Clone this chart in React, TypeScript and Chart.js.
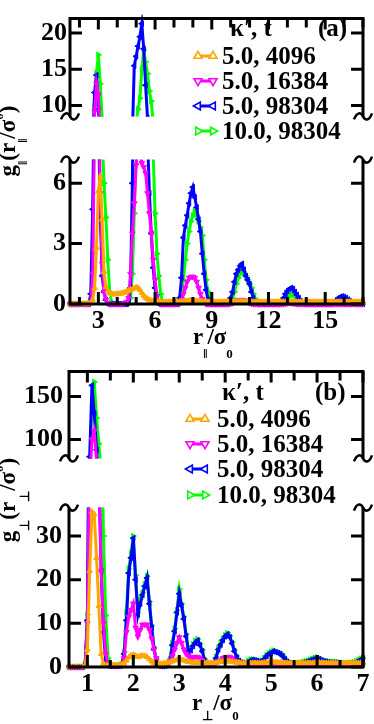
import React, { useEffect, useRef } from 'react';
import { Chart, registerables } from 'chart.js';
Chart.register(...registerables);

// ---------- Panel (a): g_parallel(r_parallel / sigma_0) ----------
const rPar = [
  1.5, 1.6, 1.7, 1.8, 1.9, 2.0, 2.1, 2.2, 2.3, 2.4,
  2.5, 2.6, 2.7, 2.8, 2.9, 3.0, 3.1, 3.2, 3.3, 3.4,
  3.5, 3.6, 3.7, 3.8, 3.9, 4.0, 4.1, 4.2, 4.3, 4.4,
  4.5, 4.6, 4.7, 4.8, 4.9, 5.0, 5.1, 5.2, 5.3, 5.4,
  5.5, 5.6, 5.7, 5.8, 5.9, 6.0, 6.1, 6.2, 6.3, 6.4,
  6.5, 6.6, 6.7, 6.8, 6.9, 7.0, 7.1, 7.2, 7.3, 7.4,
  7.5, 7.6, 7.7, 7.8, 7.9, 8.0, 8.1, 8.2, 8.3, 8.4,
  8.5, 8.6, 8.7, 8.8, 8.9, 9.0, 9.1, 9.2, 9.3, 9.4,
  9.5, 9.6, 9.7, 9.8, 9.9, 10.0, 10.1, 10.2, 10.3, 10.4,
  10.5, 10.6, 10.7, 10.8, 10.9, 11.0, 11.1, 11.2, 11.3, 11.4,
  11.5, 11.6, 11.7, 11.8, 11.9, 12.0, 12.1, 12.2, 12.3, 12.4,
  12.5, 12.6, 12.7, 12.8, 12.9, 13.0, 13.1, 13.2, 13.3, 13.4,
  13.5, 13.6, 13.7, 13.8, 13.9, 14.0, 14.1, 14.2, 14.3, 14.4,
  14.5, 14.6, 14.7, 14.8, 14.9, 15.0, 15.1, 15.2, 15.3, 15.4,
  15.5, 15.6, 15.7, 15.8, 15.9, 16.0, 16.1, 16.2, 16.3, 16.4,
  16.5, 16.6, 16.7, 16.8, 16.9, 17.0,
];
const gPar_5_4096 = [
  0, 0, 0, 0, 0, 0, 0, 0, 0, 0,
  0.02, 0.05, 0.2, 0.8, 2.8, 5.6, 6.35, 4.2, 1.6, 0.85,
  0.65, 0.55, 0.5, 0.48, 0.48, 0.5, 0.5, 0.52, 0.55, 0.58,
  0.62, 0.66, 0.7, 0.74, 0.78, 0.82, 0.8, 0.7, 0.55, 0.42,
  0.32, 0.25, 0.2, 0.16, 0.14, 0.12, 0.11, 0.1, 0.1, 0.1,
  0.1, 0.1, 0.1, 0.1, 0.1, 0.1, 0.1, 0.1, 0.11, 0.12,
  0.13, 0.14, 0.15, 0.16, 0.17, 0.17, 0.16, 0.15, 0.14, 0.13,
  0.12, 0.11, 0.1, 0.1, 0.1, 0.1, 0.1, 0.1, 0.1, 0.1,
  0.1, 0.1, 0.1, 0.1, 0.1, 0.1, 0.1, 0.11, 0.11, 0.12,
  0.12, 0.12, 0.12, 0.11, 0.11, 0.1, 0.1, 0.1, 0.1, 0.1,
  0.1, 0.1, 0.1, 0.1, 0.1, 0.1, 0.1, 0.1, 0.1, 0.1,
  0.1, 0.1, 0.1, 0.1, 0.1, 0.1, 0.11, 0.11, 0.11, 0.1,
  0.1, 0.1, 0.1, 0.1, 0.1, 0.1, 0.1, 0.1, 0.1, 0.1,
  0.1, 0.1, 0.1, 0.1, 0.1, 0.1, 0.1, 0.1, 0.1, 0.1,
  0.1, 0.1, 0.1, 0.1, 0.1, 0.1, 0.1, 0.1, 0.1, 0.1,
  0.1, 0.1, 0.1, 0.1, 0.1, 0.1,
];
const gPar_5_16384 = [
  0, 0, 0, 0, 0, 0, 0, 0, 0, 0,
  0, 0.1, 1.5, 9.2, 13, 11.5, 5.5, 2.0, 0.6, 0.2,
  0.05, 0, 0, 0, 0, 0, 0, 0, 0, 0.05,
  0.1, 0.3, 1.5, 3.5, 5.0, 6.9, 7.8, 7.6, 7.0, 6.8,
  6.5, 5.5, 4.5, 3.5, 2.2, 1.2, 0.4, 0.1, 0, 0,
  0, 0, 0, 0, 0, 0, 0, 0, 0.05, 0.2,
  0.5, 0.8, 1.1, 1.3, 1.35, 1.35, 1.3, 1.1, 0.8, 0.5,
  0.25, 0.1, 0, 0, 0, 0, 0, 0, 0, 0,
  0, 0, 0, 0, 0, 0.02, 0.05, 0.1, 0.15, 0.18,
  0.2, 0.2, 0.18, 0.15, 0.1, 0.05, 0.02, 0, 0, 0,
  0, 0, 0, 0, 0, 0, 0, 0, 0, 0,
  0, 0, 0, 0, 0.02, 0.04, 0.05, 0.05, 0.04, 0.02,
  0, 0, 0, 0, 0, 0, 0, 0, 0, 0,
  0, 0, 0, 0, 0, 0, 0, 0, 0, 0,
  0, 0, 0, 0, 0, 0, 0, 0, 0, 0,
  0, 0, 0, 0, 0, 0,
];
const gPar_5_98304 = [
  0, 0, 0, 0, 0, 0, 0, 0, 0, 0,
  0, 0.5, 4.7, 11.8, 14.2, 9.5, 4.5, 1.4, 0.6, 0.2,
  0, 0, 0, 0, 0, 0, 0, 0, 0, 0,
  0, 0.1, 0.8, 6.0, 15.5, 16.8, 18.2, 19.5, 21.3, 17.8,
  12.8, 8.3, 5.5, 3.5, 1.8, 0.8, 0.2, 0, 0, 0,
  0, 0, 0, 0, 0, 0, 0, 0, 0.3, 1.3,
  3.3, 3.9, 4.4, 5.0, 5.5, 5.8, 5.3, 4.8, 4.2, 3.6,
  2.5, 1.5, 0.7, 0.2, 0, 0, 0, 0, 0, 0,
  0, 0, 0, 0, 0.05, 0.3, 0.6, 1.1, 1.5, 1.7,
  1.9, 2.0, 1.7, 1.4, 1.2, 1.0, 0.6, 0.3, 0.1, 0,
  0, 0, 0, 0, 0, 0, 0, 0, 0, 0,
  0, 0.05, 0.15, 0.3, 0.5, 0.65, 0.75, 0.8, 0.75, 0.6,
  0.45, 0.3, 0.15, 0.05, 0, 0, 0, 0, 0, 0,
  0, 0, 0, 0, 0, 0, 0, 0, 0, 0.05,
  0.12, 0.2, 0.3, 0.36, 0.38, 0.35, 0.3, 0.22, 0.15, 0.08,
  0.03, 0, 0, 0, 0, 0,
];
const gPar_10_98304 = [
  0, 0, 0, 0, 0, 0, 0, 0, 0, 0,
  0, 0.2, 2.5, 10, 14.5, 17, 13, 8.3, 6.0, 4.3,
  2.2, 0.6, 0.1, 0, 0, 0, 0, 0, 0, 0,
  0, 0, 0.3, 1.5, 4.5, 7.5, 9.5, 11, 15, 17.7,
  16, 14.4, 12, 10.6, 7.5, 4.5, 2.5, 1.4, 0.5, 0.1,
  0, 0, 0, 0, 0, 0, 0, 0, 0, 0.3,
  1.2, 2.2, 3.0, 3.6, 4.1, 4.4, 4.6, 4.4, 4.1, 3.8,
  3.4, 2.2, 1.2, 0.6, 0.2, 0, 0, 0, 0, 0,
  0, 0, 0, 0, 0, 0.1, 0.3, 0.6, 1.0, 1.3,
  1.5, 1.6, 1.6, 1.4, 1.2, 1.0, 0.8, 0.5, 0.25, 0.1,
  0, 0, 0, 0, 0, 0, 0, 0, 0, 0,
  0, 0, 0, 0.1, 0.2, 0.3, 0.4, 0.45, 0.45, 0.4,
  0.3, 0.2, 0.1, 0, 0, 0, 0, 0, 0, 0,
  0, 0, 0, 0, 0, 0, 0, 0, 0, 0,
  0.05, 0.1, 0.15, 0.2, 0.2, 0.18, 0.15, 0.1, 0.05, 0,
  0, 0, 0, 0, 0, 0,
];
const parXTickLabels = [3, 6, 9, 12, 15];
const parXMinorTicks = [2, 3, 4, 5, 6, 7, 8, 9, 10, 11, 12, 13, 14, 15, 16, 17];
const parUpperYTicks = [10, 15, 20];
const parLowerYTicks = [0, 3, 6];

// ---------- Panel (b): g_perp(r_perp / sigma_0) ----------
const rPerp = [
  0.6, 0.65, 0.7, 0.75, 0.8, 0.85, 0.9, 0.95, 1.0, 1.05,
  1.1, 1.15, 1.2, 1.25, 1.3, 1.35, 1.4, 1.45, 1.5, 1.55,
  1.6, 1.65, 1.7, 1.75, 1.8, 1.85, 1.9, 1.95, 2.0, 2.05,
  2.1, 2.15, 2.2, 2.25, 2.3, 2.35, 2.4, 2.45, 2.5, 2.55,
  2.6, 2.65, 2.7, 2.75, 2.8, 2.85, 2.9, 2.95, 3.0, 3.05,
  3.1, 3.15, 3.2, 3.25, 3.3, 3.35, 3.4, 3.45, 3.5, 3.55,
  3.6, 3.65, 3.7, 3.75, 3.8, 3.85, 3.9, 3.95, 4.0, 4.05,
  4.1, 4.15, 4.2, 4.25, 4.3, 4.35, 4.4, 4.45, 4.5, 4.55,
  4.6, 4.65, 4.7, 4.75, 4.8, 4.85, 4.9, 4.95, 5.0, 5.05,
  5.1, 5.15, 5.2, 5.25, 5.3, 5.35, 5.4, 5.45, 5.5, 5.55,
  5.6, 5.65, 5.7, 5.75, 5.8, 5.85, 5.9, 5.95, 6.0, 6.05,
  6.1, 6.15, 6.2, 6.25, 6.3, 6.35, 6.4, 6.45, 6.5, 6.55,
  6.6, 6.65, 6.7, 6.75, 6.8, 6.85, 6.9, 6.95, 7.0,
];
const gPerp_5_4096 = [
  0, 0, 0, 0, 0, 0, 0, 0.2, 4, 22,
  35.5, 35, 25, 14, 3, 0.8, 0.3, 0.3, 0.3, 0.4,
  0.4, 0.4, 0.5, 0.6, 0.8, 1.5, 2.2, 2.6, 2.8, 2.6,
  2.3, 2.5, 2.6, 2.5, 2.3, 1.8, 1.3, 0.9, 0.7, 0.7,
  0.7, 0.8, 0.9, 1.0, 1.1, 1.3, 1.5, 1.6, 1.7, 1.6,
  1.5, 1.3, 1.2, 1.1, 1.0, 1.0, 1.0, 1.0, 1.0, 0.9,
  0.9, 0.9, 0.9, 0.9, 1.0, 1.1, 1.2, 1.3, 1.3, 1.3,
  1.3, 1.2, 1.1, 1.0, 1.0, 0.9, 0.9, 0.9, 0.9, 0.9,
  0.9, 0.9, 0.9, 0.9, 0.9, 1.0, 1.0, 1.0, 1.1, 1.1,
  1.1, 1.0, 1.0, 1.0, 0.9, 0.9, 0.9, 0.9, 0.9, 0.9,
  0.9, 0.9, 0.9, 0.9, 0.9, 0.9, 0.9, 1.0, 1.0, 1.0,
  1.0, 0.9, 0.9, 0.9, 0.9, 0.9, 0.9, 0.9, 0.9, 0.9,
  0.9, 0.9, 0.9, 0.9, 0.9, 0.9, 0.9, 0.9, 0.9,
];
const gPerp_5_16384 = [
  0, 0, 0, 0, 0, 0, 0, 0.3, 10, 50,
  100, 110, 75, 45, 22, 10, 3, 0.5, 0.3, 0.3,
  0.3, 0.3, 0.3, 0.3, 2, 8, 11.5, 13, 14.5, 9,
  7, 8.5, 9.7, 9.7, 9.7, 8.5, 6.5, 4, 2, 0.8,
  0.3, 0.3, 0.5, 0.8, 1.5, 2.5, 4, 5.5, 6.8, 5.5,
  4, 3, 2.5, 2.2, 2.2, 2.3, 2.3, 2, 1.5, 1,
  0.8, 0.6, 0.5, 0.6, 0.9, 1.2, 1.5, 2, 2.2, 2.3,
  2.3, 2, 1.5, 1.2, 0.9, 0.7, 0.6, 0.5, 0.5, 0.5,
  0.5, 0.5, 0.5, 0.5, 0.6, 0.6, 0.7, 0.8, 0.9, 0.9,
  0.9, 0.8, 0.8, 0.7, 0.6, 0.6, 0.5, 0.5, 0.5, 0.5,
  0.5, 0.5, 0.5, 0.6, 0.6, 0.6, 0.6, 0.7, 0.7, 0.7,
  0.6, 0.6, 0.6, 0.5, 0.5, 0.5, 0.5, 0.5, 0.5, 0.5,
  0.5, 0.5, 0.5, 0.5, 0.5, 0.5, 0.5, 0.5, 0.5,
];
const gPerp_5_98304 = [
  0, 0, 0, 0, 0, 0, 0, 0.5, 10.7, 80,
  163, 130, 88, 45, 22, 8, 1.5, 0.3, 0.2, 0.2,
  0.2, 0.2, 0.3, 0.5, 3, 10.7, 21.5, 25, 29.5, 20,
  12, 14.5, 16.5, 18.5, 20.4, 14.5, 9, 4, 1.5, 0.3,
  0.2, 0.2, 0.3, 0.5, 1.5, 5, 8.2, 12.5, 16.8, 14,
  11, 7, 3.6, 3.8, 4.8, 5.5, 6.1, 5, 3.6, 1.5,
  0.8, 0.5, 0.4, 0.6, 2, 4, 5.1, 6.2, 7.0, 7.5,
  6.8, 5.4, 3.6, 2.2, 1.4, 1.0, 0.8, 0.8, 1.2, 1.5,
  1.6, 1.5, 1.4, 1.2, 1.3, 1.8, 2.5, 3.0, 3.3, 3.6,
  3.4, 3.2, 3.0, 2.5, 1.8, 1.2, 0.9, 0.7, 0.6, 0.6,
  0.7, 0.8, 1.0, 1.1, 1.3, 1.5, 1.7, 1.9, 2.0, 1.8,
  1.5, 1.3, 1.2, 1.1, 1.0, 1.0, 1.0, 0.9, 0.8, 0.7,
  0.6, 0.6, 0.7, 0.8, 0.9, 1.1, 1.4, 1.7, 1.9,
];
const gPerp_10_98304 = [
  0, 0, 0, 0, 0, 0, 0, 0.6, 12, 60,
  140, 167, 125, 95, 60, 30, 11.8, 2, 0.5, 0.3,
  0.3, 0.3, 0.3, 0.6, 3.5, 12.5, 22.5, 26, 30, 21,
  12.5, 15.5, 17, 19, 20.8, 15, 9.5, 4.5, 1.8, 0.4,
  0.3, 0.3, 0.4, 0.6, 1.8, 5.5, 8.8, 13, 17.8, 14.5,
  11.5, 7.5, 4, 4.2, 5.2, 6, 6.4, 5.3, 3.9, 1.8,
  1, 0.6, 0.5, 0.8, 2.3, 4.3, 5.5, 6.5, 7.3, 7.8,
  7.1, 5.7, 3.9, 2.5, 1.6, 1.2, 1.0, 1.0, 1.4, 1.7,
  1.8, 1.7, 1.6, 1.4, 1.5, 2.0, 2.7, 3.2, 3.5, 3.8,
  3.6, 3.4, 3.2, 2.7, 2.0, 1.4, 1.1, 0.9, 0.8, 0.8,
  0.9, 1.0, 1.2, 1.3, 1.5, 1.7, 1.9, 2.1, 2.2, 2.0,
  1.7, 1.5, 1.4, 1.3, 1.2, 1.2, 1.2, 1.1, 1.0, 0.9,
  0.8, 0.8, 0.9, 1.0, 1.1, 1.3, 1.6, 1.9, 2.1,
];
const perpXTickLabels = [1, 2, 3, 4, 5, 6, 7];
const perpXMinorTicks = [1, 1.5, 2, 2.5, 3, 3.5, 4, 4.5, 5, 5.5, 6, 6.5, 7];
const perpUpperYTicks = [100, 150];
const perpLowerYTicks = [0, 10, 20, 30];

// ---------- Legend ----------
const seriesLabels = ['5.0, 4096', '5.0, 16384', '5.0, 98304', '10.0, 98304'];
const seriesColors = ['#ffa500', '#ff00ff', '#0000ff', '#00ff00'];
const seriesRotation = [0, 180, 270, 90];

const FONT = '"Liberation Serif", "Times New Roman", serif';

function tilde(ctx: CanvasRenderingContext2D, cx: number, cy: number) {
  ctx.beginPath();
  ctx.moveTo(cx - 9, cy + 3);
  ctx.bezierCurveTo(cx - 6, cy - 5, cx - 2, cy - 4, cx, cy);
  ctx.bezierCurveTo(cx + 2, cy + 4, cx + 6, cy + 5, cx + 9, cy - 3);
  ctx.stroke();
}

function framePlugin(part: 'upper' | 'lower', xMajor: number[], xMinor: number[], yTicks: number[]) {
  return {
    id: 'frame_' + part,
    afterDraw(chart: any) {
      const { ctx, chartArea: a, scales } = chart;
      const xs = scales.x;
      const ys = scales.y;
      ctx.save();
      ctx.strokeStyle = '#000';
      ctx.lineWidth = 3;
      ctx.lineJoin = 'miter';
      ctx.beginPath();
      if (part === 'upper') {
        ctx.moveTo(a.left, a.bottom);
        ctx.lineTo(a.left, a.top);
        ctx.lineTo(a.right, a.top);
        ctx.lineTo(a.right, a.bottom);
      } else {
        ctx.moveTo(a.left, a.top);
        ctx.lineTo(a.left, a.bottom);
        ctx.lineTo(a.right, a.bottom);
        ctx.lineTo(a.right, a.top);
      }
      ctx.stroke();
      ctx.beginPath();
      const edge = part === 'upper' ? a.top : a.bottom;
      const dir = part === 'upper' ? 1 : -1;
      xMinor.forEach((v) => {
        const px = xs.getPixelForValue(v);
        const major = xMajor.includes(v);
        const len = part === 'upper' ? (major ? 11 : 9) : (major ? 12 : 7);
        ctx.moveTo(px, edge);
        ctx.lineTo(px, edge + dir * len);
      });
      yTicks.forEach((v) => {
        const py = ys.getPixelForValue(v);
        ctx.moveTo(a.left, py);
        ctx.lineTo(a.left + 12, py);
        ctx.moveTo(a.right, py);
        ctx.lineTo(a.right - 12, py);
      });
      ctx.stroke();
      ctx.lineWidth = 2.5;
      const by = part === 'upper' ? a.bottom : a.top;
      tilde(ctx, a.left, by);
      tilde(ctx, a.right, by);
      ctx.restore();
    },
  };
}

type Cfg = {
  xs: number[];
  series: number[][];
  xMin: number;
  xMax: number;
  yMin: number;
  yMax: number;
  yTicks: number[];
  xLabels: number[];
  xMinor: number[];
  part: 'upper' | 'lower';
  yWidth: number;
  yPad: number;
  xHeight: number;
  padding: { top: number; right: number; bottom: number; left: number };
};

function buildConfig(c: Cfg): any {
  const tickFont = { family: FONT, size: 26, weight: 'bold' as const };
  const clip =
    c.part === 'upper'
      ? { left: 3, right: 3, top: 4, bottom: 0 }
      : { left: 3, right: 3, top: 0, bottom: 5 };
  return {
    type: 'line',
    data: {
      datasets: c.series.map((ys, i) => ({
        label: seriesLabels[i],
        data: c.xs.map((x, j) => ({ x, y: ys[j] })),
        borderColor: seriesColors[i],
        backgroundColor: seriesColors[i],
        borderWidth: 3,
        pointStyle: 'triangle',
        pointRotation: seriesRotation[i],
        pointRadius: 3.2,
        pointBorderWidth: 1,
        pointBackgroundColor: seriesColors[i],
        pointBorderColor: seriesColors[i],
        tension: 0,
        fill: false,
        clip,
      })),
    },
    options: {
      responsive: false,
      animation: false,
      events: [],
      layout: { padding: c.padding },
      plugins: { legend: { display: false }, tooltip: { enabled: false } },
      scales: {
        x: {
          type: 'linear',
          min: c.xMin,
          max: c.xMax,
          display: c.part === 'lower',
          grid: { display: false, drawTicks: false },
          border: { display: false },
          ticks: { font: tickFont, color: '#000', padding: 2, autoSkip: false, maxRotation: 0 },
          afterBuildTicks: (s: any) => {
            s.ticks = c.xLabels.map((v) => ({ value: v }));
          },
          afterFit: (s: any) => {
            s.height = c.xHeight;
          },
        },
        y: {
          type: 'linear',
          min: c.yMin,
          max: c.yMax,
          grid: { display: false, drawTicks: false },
          border: { display: false },
          ticks: { font: tickFont, color: '#000', padding: c.yPad, autoSkip: false },
          afterBuildTicks: (s: any) => {
            s.ticks = c.yTicks.map((v) => ({ value: v }));
          },
          afterFit: (s: any) => {
            s.width = c.yWidth;
          },
        },
      },
    },
    plugins: [framePlugin(c.part, c.xLabels, c.xMinor, c.yTicks)],
  };
}

const parSeries = [gPar_5_4096, gPar_5_16384, gPar_5_98304, gPar_10_98304];
const perpSeries = [gPerp_5_4096, gPerp_5_16384, gPerp_5_98304, gPerp_10_98304];

const canvases = [
  { top: 0, height: 135 },
  { top: 140, height: 200 },
  { top: 350, height: 130 },
  { top: 485, height: 215 },
];

function makeConfigs(): any[] {
  return [
    buildConfig({
      xs: rPar, series: parSeries, xMin: 1.5, xMax: 17, yMin: 8.5, yMax: 22,
      yTicks: parUpperYTicks, xLabels: parXTickLabels, xMinor: parXMinorTicks,
      part: 'upper', yWidth: 70, yPad: 3, xHeight: 0,
      padding: { top: 3, right: 11, bottom: 12, left: 0 },
    }),
    buildConfig({
      xs: rPar, series: parSeries, xMin: 1.5, xMax: 17, yMin: 0, yMax: 7.17,
      yTicks: parLowerYTicks, xLabels: parXTickLabels, xMinor: parXMinorTicks,
      part: 'lower', yWidth: 70, yPad: 4, xHeight: 36,
      padding: { top: 15, right: 11, bottom: 0, left: 0 },
    }),
    buildConfig({
      xs: rPerp, series: perpSeries, xMin: 0.6, xMax: 7, yMin: 78, yMax: 179,
      yTicks: perpUpperYTicks, xLabels: perpXTickLabels, xMinor: perpXMinorTicks,
      part: 'upper', yWidth: 69, yPad: 6, xHeight: 0,
      padding: { top: 13, right: 11, bottom: 6, left: 0 },
    }),
    buildConfig({
      xs: rPerp, series: perpSeries, xMin: 0.6, xMax: 7, yMin: 0, yMax: 36.5,
      yTicks: perpLowerYTicks, xLabels: perpXTickLabels, xMinor: perpXMinorTicks,
      part: 'lower', yWidth: 69, yPad: 7, xHeight: 33,
      padding: { top: 12, right: 11, bottom: 0, left: 0 },
    }),
  ];
}

function Sym({ color, rot, left, cy, m1, m2 }: { color: string; rot: number; left: number; cy: number; m1: number; m2: number }) {
  const tri = (cx: number) => {
    const r = 4.6;
    const pts = `${cx},${7 - r} ${cx + r * 0.866},${7 + r / 2} ${cx - r * 0.866},${7 + r / 2}`;
    return (
      <polygon points={pts} transform={`rotate(${rot} ${cx} 7)`} fill="#fff" stroke={color} strokeWidth={1.6} />
    );
  };
  return (
    <svg width={34} height={14} style={{ position: 'absolute', left, top: cy - 7 }}>
      <line x1={m1} y1={7} x2={m2} y2={7} stroke={color} strokeWidth={3} />
      {tri(m1)}
      {tri(m2)}
    </svg>
  );
}

function Legend({ headerLeft, headerCy, tagLeft, tag, textLeft, symLeft, m1, m2, rows }: any) {
  const txt = (left: number, cy: number, s: string, key: string) => (
    <div key={key} style={{ position: 'absolute', left, top: cy - 12.6, fontSize: 25, lineHeight: '25px', whiteSpace: 'nowrap' }}>{s}</div>
  );
  return (
    <>
      {txt(headerLeft, headerCy, 'κ′, t', 'h')}
      {txt(tagLeft, headerCy, tag, 'tag')}
      {rows.map((cy: number, i: number) => (
        <React.Fragment key={i}>
          <Sym color={seriesColors[i]} rot={seriesRotation[i]} left={symLeft} cy={cy} m1={m1} m2={m2} />
          {txt(textLeft, cy, seriesLabels[i], 't' + i)}
        </React.Fragment>
      ))}
    </>
  );
}

const subStyle = (dy: number): React.CSSProperties => ({ fontSize: 13, position: 'relative', top: dy });

export default function App() {
  const r0 = useRef<HTMLCanvasElement>(null);
  const r1 = useRef<HTMLCanvasElement>(null);
  const r2 = useRef<HTMLCanvasElement>(null);
  const r3 = useRef<HTMLCanvasElement>(null);
  const refs = [r0, r1, r2, r3];

  useEffect(() => {
    const cfgs = makeConfigs();
    const charts = refs.map((r, i) => new Chart(r.current as HTMLCanvasElement, cfgs[i]));
    return () => charts.forEach((ch) => ch.destroy());
  }, []);

  return (
    <div
      style={{
        position: 'fixed', left: 0, top: 0, width: 374, height: 724, overflow: 'hidden',
        background: '#fff', color: '#000', fontFamily: FONT, fontWeight: 'bold',
      }}
    >
      {canvases.map((c, i) => (
        <canvas
          key={i}
          ref={refs[i]}
          width={374}
          height={c.height}
          style={{ position: 'absolute', left: 0, top: c.top, width: 374, height: c.height }}
        />
      ))}

      {/* Panel (a) legend */}
      <Legend headerLeft={230} headerCy={28} tagLeft={318} tag="(a)" textLeft={222} symLeft={188} m1={10} m2={25} rows={[56, 81, 106, 131]} />
      {/* Panel (b) legend */}
      <Legend headerLeft={222} headerCy={392} tagLeft={315} tag="(b)" textLeft={217} symLeft={182} m1={8} m2={23} rows={[418.5, 443.5, 468.5, 495]} />

      {/* y-axis title (a) */}
      <div style={{ position: 'absolute', left: 8 - 70, top: 141 - 15, width: 140, height: 30, lineHeight: '30px', fontSize: 23, textAlign: 'center', whiteSpace: 'nowrap', transform: 'rotate(-90deg)' }}>
        g<span style={subStyle(12)}>‖</span>(r<span style={subStyle(12)}>‖</span>/σ<span style={subStyle(-12)}>0</span>)
      </div>
      {/* y-axis title (b) */}
      <div style={{ position: 'absolute', left: 8 - 70, top: 500 - 15, width: 140, height: 30, lineHeight: '30px', fontSize: 23, textAlign: 'center', whiteSpace: 'nowrap', transform: 'rotate(-90deg)' }}>
        g<span style={subStyle(14)}>⊥</span>(r<span style={subStyle(14)}>⊥</span>/σ<span style={subStyle(-12)}>0</span>)
      </div>
      {/* x-axis title (a) */}
      <div style={{ position: 'absolute', left: 193, top: 324, fontSize: 23, lineHeight: '25px', whiteSpace: 'nowrap' }}>
        r<span style={subStyle(14)}>‖</span>/σ<span style={subStyle(14)}>0</span>
      </div>
      {/* x-axis title (b) */}
      <div style={{ position: 'absolute', left: 192, top: 690, fontSize: 23, lineHeight: '25px', whiteSpace: 'nowrap' }}>
        r<span style={subStyle(10)}>⊥</span>/σ<span style={subStyle(10)}>0</span>
      </div>
    </div>
  );
}
